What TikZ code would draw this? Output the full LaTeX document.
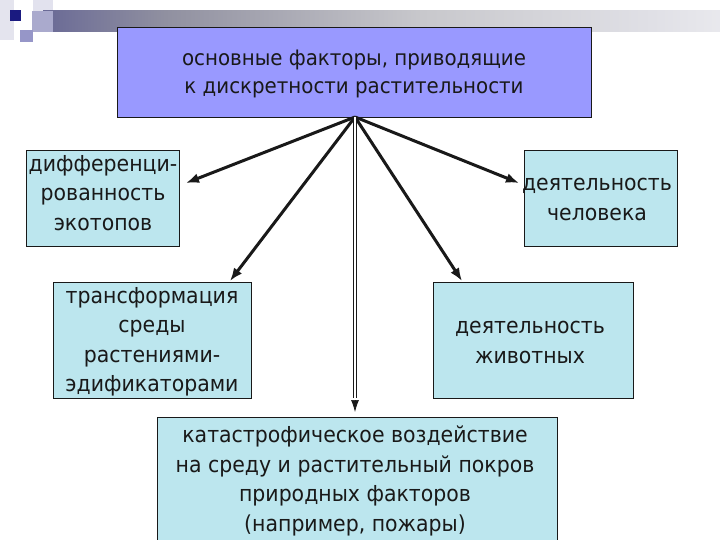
\documentclass[tikz,border=0pt]{standalone}
\usepackage{fontspec}
\setmainfont{DejaVu Sans}
\newfontfamily\boxfont[FakeStretch=0.93]{DejaVu Sans}
\usetikzlibrary{arrows.meta}
\definecolor{topfill}{RGB}{153,153,255}
\definecolor{boxfill}{RGB}{188,230,238}
\definecolor{navyA}{RGB}{26,26,128}
\definecolor{navyB}{RGB}{46,46,130}
\definecolor{navyC}{RGB}{84,84,144}
\definecolor{grayB}{RGB}{144,144,160}
\definecolor{grayC}{RGB}{200,200,204}
\definecolor{grayD}{RGB}{224,224,230}
\definecolor{inkc}{RGB}{25,25,25}
\definecolor{decoA}{RGB}{228,228,238}
\definecolor{decoB}{RGB}{226,226,238}
\definecolor{decoC}{RGB}{170,170,205}
\definecolor{decoD}{RGB}{150,150,200}
\pgfdeclarehorizontalshading{barshade}{100bp}{color(0bp)=(navyA); color(8bp)=(navyB); color(20bp)=(navyC); color(34bp)=(grayB); color(53bp)=(grayC); color(70bp)=(grayD); color(88bp)=(white); color(100bp)=(white)}
\tikzset{
  box/.style={draw=inkc, line width=0.8pt, fill=boxfill, inner sep=0pt, outer sep=0pt},
  topbox/.style={draw=inkc, line width=0.8pt, fill=topfill, inner sep=0pt, outer sep=0pt},
  txt/.style={align=center, inner sep=0pt, text=inkc, font=\boxfont\fontsize{22}{29.5}\selectfont},
  toptxt/.style={align=center, inner sep=0pt, text=inkc, font=\boxfont\fontsize{21.3}{28}\selectfont},
  arr/.style={draw=inkc, line width=3pt, -{Latex[length=13pt,width=10pt]}},
}
\begin{document}
\begin{tikzpicture}[x=1pt,y=-1pt]
\useasboundingbox (0,0) rectangle (720,540);
\fill[white] (0,0) rectangle (720,540);
% decoration
\fill[decoA] (0,0) rectangle (14,40);
\fill[decoB] (33,0) rectangle (53,22);
\shade[shading=barshade] (43,11) rectangle (720,32);
\fill[decoC] (32,11) rectangle (53,32);
\fill[decoD] (20,30) rectangle (33,42);
\fill[navyA] (10,10) rectangle (21,21);
% boxes
\node[topbox, minimum width=474pt, minimum height=90pt] (top) at (354,72) {};
\node[toptxt] (toptext) at (354,74) {основные факторы, приводящие\\к дискретности растительности};
\node[box, minimum width=153pt, minimum height=96pt] (l1) at (102.5,198) {};
\node[txt] (l1text) at (103,193) {дифференци-\\рованность\\экотопов};
\node[box, minimum width=153pt, minimum height=96pt] (r1) at (600.5,198) {};
\node[txt] (r1text) at (597,199.5) {деятельность\\человека};
\node[box, minimum width=198pt, minimum height=116pt] (l2) at (152,340) {};
\node[txt] (l2text) at (152,342) {трансформация\\среды\\растениями-\\эдификаторами};
\node[box, minimum width=200pt, minimum height=116pt] (r2) at (533,340) {};
\node[txt] (r2text) at (530,342.5) {деятельность\\животных};
\node[box, minimum width=400pt, minimum height=126pt] (bt) at (357,480) {};
\node[txt] (bttext) at (355,481) {катастрофическое воздействие\\на среду и растительный покров\\природных факторов\\(например, пожары)};
% connectors
\coordinate (o) at (355,117);
\coordinate (t1) at (186,183);
\coordinate (t2) at (230,281);
\coordinate (t4) at (462,281);
\coordinate (t5) at (519,183);
\coordinate (vb) at (355,398);
\coordinate (t3) at (355,412);
\draw[arr] (o) -- (t1);
\draw[arr] (o) -- (t2);
\draw[arr] (o) -- (t4);
\draw[arr] (o) -- (t5);
\draw[draw=inkc, double=white, double distance=2pt, line width=0.7pt] (o) -- (vb);
\draw[draw=inkc, line width=0.7pt, -{Latex[length=12pt,width=8pt]}] ([yshift=-2pt]vb) -- (t3);
\end{tikzpicture}
\end{document}
